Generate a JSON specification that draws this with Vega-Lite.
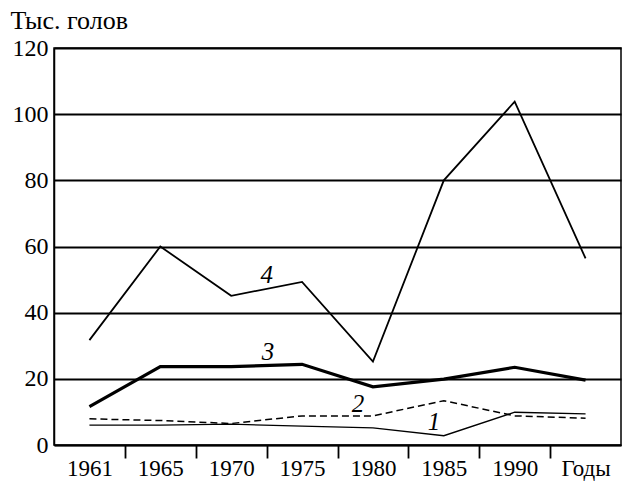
{
  "$schema": "https://vega.github.io/schema/vega-lite/v6.json",
  "autosize": "none",
  "width": 567,
  "height": 397,
  "padding": {"left": 54, "top": 48, "right": 2, "bottom": 38},
  "background": "white",
  "config": {
    "view": {"stroke": "black", "strokeWidth": 1.5},
    "font": "Liberation Serif"
  },
  "datasets": {
    "herd": [
      {"pos": 0, "year": "1961", "series": "1", "value": 6.0},
      {"pos": 1, "year": "1965", "series": "1", "value": 6.0},
      {"pos": 2, "year": "1970", "series": "1", "value": 6.3},
      {"pos": 3, "year": "1975", "series": "1", "value": 5.7},
      {"pos": 4, "year": "1980", "series": "1", "value": 5.2},
      {"pos": 5, "year": "1985", "series": "1", "value": 2.8},
      {"pos": 6, "year": "1990", "series": "1", "value": 9.9},
      {"pos": 7, "year": "1995", "series": "1", "value": 9.4},
      {"pos": 0, "year": "1961", "series": "2", "value": 7.9},
      {"pos": 1, "year": "1965", "series": "2", "value": 7.4},
      {"pos": 2, "year": "1970", "series": "2", "value": 6.5},
      {"pos": 3, "year": "1975", "series": "2", "value": 8.8},
      {"pos": 4, "year": "1980", "series": "2", "value": 8.8},
      {"pos": 5, "year": "1985", "series": "2", "value": 13.4},
      {"pos": 6, "year": "1990", "series": "2", "value": 8.8},
      {"pos": 7, "year": "1995", "series": "2", "value": 8.1},
      {"pos": 0, "year": "1961", "series": "3", "value": 11.6},
      {"pos": 1, "year": "1965", "series": "3", "value": 23.7},
      {"pos": 2, "year": "1970", "series": "3", "value": 23.7},
      {"pos": 3, "year": "1975", "series": "3", "value": 24.4},
      {"pos": 4, "year": "1980", "series": "3", "value": 17.6},
      {"pos": 5, "year": "1985", "series": "3", "value": 19.9},
      {"pos": 6, "year": "1990", "series": "3", "value": 23.5},
      {"pos": 7, "year": "1995", "series": "3", "value": 19.6},
      {"pos": 0, "year": "1961", "series": "4", "value": 31.7},
      {"pos": 1, "year": "1965", "series": "4", "value": 60.0},
      {"pos": 2, "year": "1970", "series": "4", "value": 45.1},
      {"pos": 3, "year": "1975", "series": "4", "value": 49.3},
      {"pos": 4, "year": "1980", "series": "4", "value": 25.2},
      {"pos": 5, "year": "1985", "series": "4", "value": 80.0},
      {"pos": 6, "year": "1990", "series": "4", "value": 103.8},
      {"pos": 7, "year": "1995", "series": "4", "value": 56.4}
    ]
  },
  "data": {"name": "herd"},
  "encoding": {
    "x": {
      "field": "pos",
      "type": "quantitative",
      "scale": {"domain": [-0.5, 7.5], "nice": false, "zero": false},
      "axis": {
        "title": null,
        "values": [0, 0.5, 1, 1.5, 2, 2.5, 3, 3.5, 4, 4.5, 5, 5.5, 6, 6.5, 7],
        "grid": false,
        "domain": true,
        "domainColor": "black",
        "domainWidth": 1.5,
        "ticks": true,
        "tickColor": "black",
        "tickWidth": 1.8,
        "tickSize": 13,
        "tickOpacity": {"condition": {"test": "datum.value % 1 == 0", "value": 0}, "value": 1},
        "labelExpr": "datum.value % 1 == 0 ? ['1961','1965','1970','1975','1980','1985','1990','Годы'][datum.value] : ''",
        "labelFont": "Liberation Serif",
        "labelFontSize": 23,
        "labelColor": "black",
        "labelPadding": -1,
        "labelOverlap": false,
        "labelBound": false,
        "labelFlush": false
      }
    },
    "y": {
      "field": "value",
      "type": "quantitative",
      "scale": {"domain": [0, 120], "nice": false},
      "axis": {
        "title": "Тыс. голов",
        "titleAngle": 0,
        "titleX": -44,
        "titleY": -20,
        "titleAlign": "left",
        "titleBaseline": "alphabetic",
        "titleFont": "Liberation Serif",
        "titleFontSize": 26,
        "titleFontWeight": "normal",
        "titleColor": "black",
        "values": [0, 20, 40, 60, 80, 100, 120],
        "grid": true,
        "gridColor": "black",
        "gridWidth": 2,
        "gridOpacity": 1,
        "ticks": false,
        "domain": true,
        "domainColor": "black",
        "domainWidth": 1.5,
        "labelFont": "Liberation Serif",
        "labelFontSize": 24,
        "labelColor": "black",
        "labelPadding": 6
      }
    }
  },
  "layer": [
    {
      "transform": [{"filter": "datum.series == '1'"}],
      "mark": {"type": "line", "color": "black", "strokeWidth": 1.3}
    },
    {
      "transform": [{"filter": "datum.series == '2'"}],
      "mark": {"type": "line", "color": "black", "strokeWidth": 1.5, "strokeDash": [7, 4]}
    },
    {
      "transform": [{"filter": "datum.series == '3'"}],
      "mark": {"type": "line", "color": "black", "strokeWidth": 3.2, "strokeJoin": "miter"}
    },
    {
      "transform": [{"filter": "datum.series == '4'"}],
      "mark": {"type": "line", "color": "black", "strokeWidth": 1.8, "strokeJoin": "miter"}
    },
    {
      "data": {
        "values": [
          {"label": "1", "pos": 4.86, "value": 4.5},
          {"label": "2", "pos": 3.79, "value": 10.1},
          {"label": "3", "pos": 2.52, "value": 25.7},
          {"label": "4", "pos": 2.5, "value": 49.0}
        ]
      },
      "mark": {"type": "text", "font": "Liberation Serif", "fontSize": 25, "fontStyle": "italic", "color": "black", "baseline": "alphabetic", "align": "center"},
      "encoding": {
        "text": {"field": "label", "type": "nominal"}
      }
    }
  ]
}
